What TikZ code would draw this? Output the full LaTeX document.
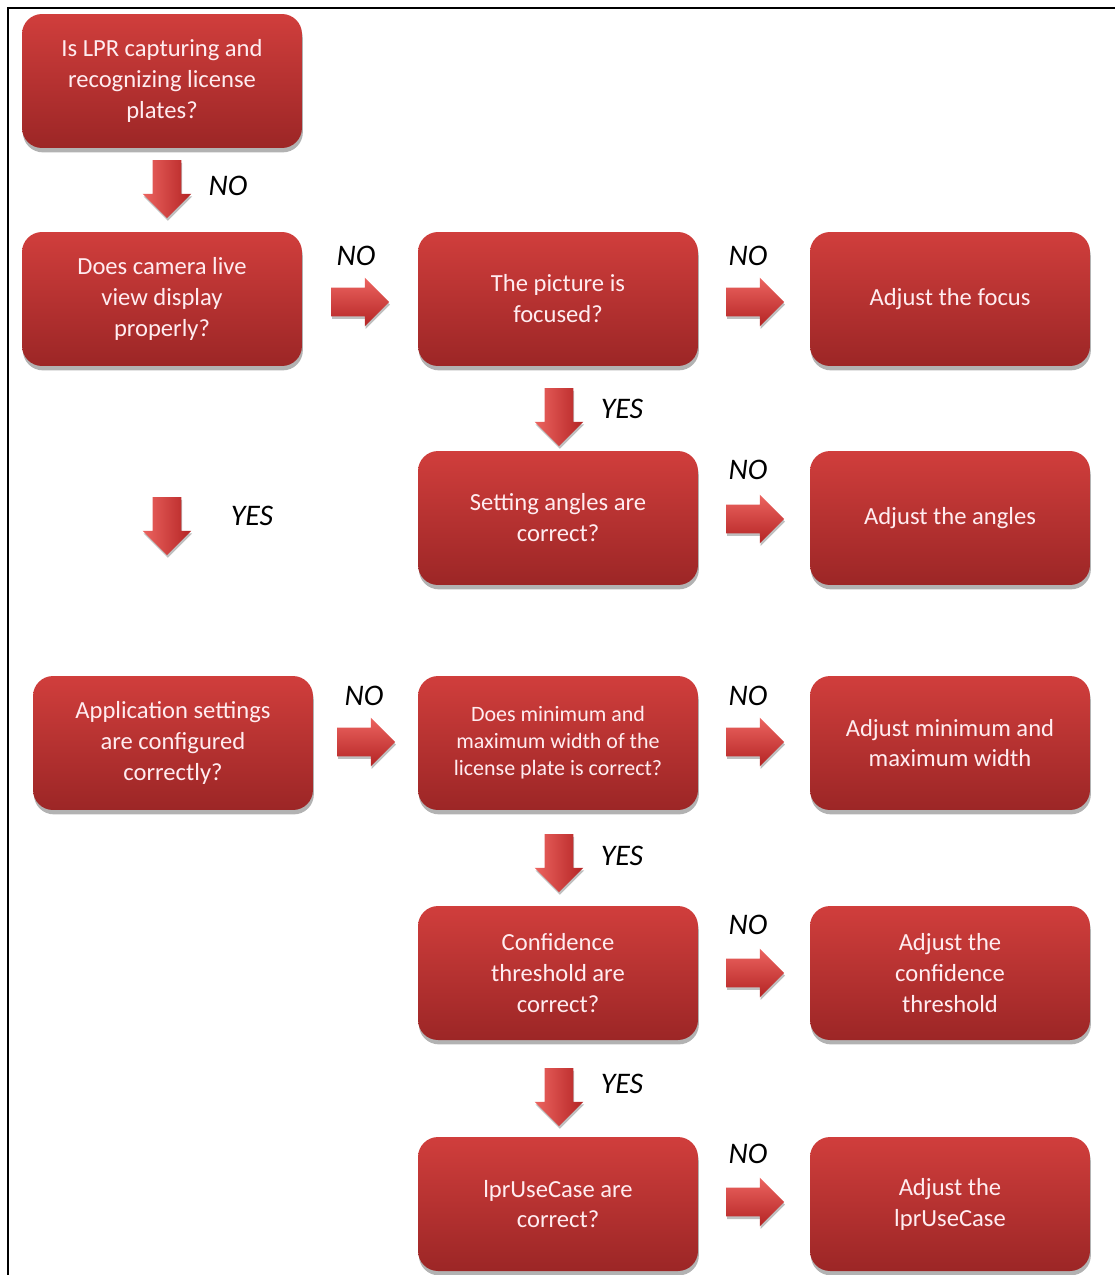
\documentclass[tikz,border=0pt]{standalone}
\usepackage{fontspec}
\setmainfont{Carlito}
\usetikzlibrary{shapes.arrows,shadows}

\definecolor{boxtop}{RGB}{208,62,60}
\definecolor{boxbot}{RGB}{156,38,38}
\definecolor{boxtext}{RGB}{255,236,240}
\definecolor{arrtop}{RGB}{236,100,96}
\definecolor{arrbot}{RGB}{180,36,36}

\tikzset{
  stepbox/.style={rectangle, rounded corners=0.4cm, minimum width=5.6cm,
    minimum height=2.68cm, top color=boxtop, bottom color=boxbot,
    text=boxtext, align=center, font=\fontsize{14}{17.6}\selectfont,
    drop shadow={shadow xshift=0.5pt, shadow yshift=-2.5pt, opacity=0.3, fill=black}},
  rarrow/.style={single arrow, single arrow head extend=0.2cm,
    minimum height=1.16cm, inner xsep=0pt, inner ysep=0.28cm,
    top color=arrtop, bottom color=arrbot,
    drop shadow={shadow xshift=0.5pt, shadow yshift=-1.5pt, opacity=0.25, fill=black}},
  darrow/.style={rarrow, shape border rotate=270, inner xsep=0.28cm, inner ysep=0pt,
    left color=arrtop, right color=arrbot},
  answer/.style={font=\fontsize{17}{20}\selectfont\itshape}
}

\begin{document}
\begin{tikzpicture}[x=0.02cm, y=-0.02cm]
   \useasboundingbox (0,0) rectangle (1115,1275);
   \draw[line width=0.6pt] (8,1275) -- (8,8) -- (1115,8);
   % boxes
   \node[stepbox] (lpr) at (162,81) {Is LPR capturing and\\recognizing license\\plates?};
   \node[stepbox] (live) at (162,299) {Does camera live\\view display\\properly?};
   \node[stepbox] (focus) at (558,299) {The picture is\\focused?};
   \node[stepbox] (adjfocus) at (950,299) {Adjust the focus};
   \node[stepbox] (angles) at (558,518) {Setting angles are\\correct?};
   \node[stepbox] (adjangles) at (950,518) {Adjust the angles};
   \node[stepbox] (app) at (173,743) {Application settings\\are configured\\correctly?};
   \node[stepbox, font=\fontsize{12.5}{15.4}\selectfont] (width) at (558,743) {Does minimum and\\maximum width of the\\license plate is correct?};
   \node[stepbox] (adjwidth) at (950,743) {Adjust minimum and\\maximum width};
   \node[stepbox] (conf) at (558,973) {Confidence\\threshold are\\correct?};
   \node[stepbox] (adjconf) at (950,973) {Adjust the\\confidence\\threshold};
   \node[stepbox] (usecase) at (558,1204) {lprUseCase are\\correct?};
   \node[stepbox] (adjusecase) at (950,1204) {Adjust the\\lprUseCase};
   % arrows
   \node[darrow] (a1) at (167,182) {};
   \node[rarrow] (a2) at (353,302) {};
   \node[rarrow] (a3) at (748,302) {};
   \node[darrow] (a4) at (559,410) {};
   \node[rarrow] (a5) at (748,519) {};
   \node[darrow] (a6) at (167,519) {};
   \node[rarrow] (a7) at (359,742) {};
   \node[rarrow] (a8) at (748,742) {};
   \node[darrow] (a9) at (559,856) {};
   \node[rarrow] (a10) at (748,973) {};
   \node[darrow] (a11) at (559,1090) {};
   \node[rarrow] (a12) at (748,1202) {};
   % answers
   \node[answer] (n1) at (228,186) {NO};
   \node[answer] (n2) at (356,256) {NO};
   \node[answer] (n3) at (748,256) {NO};
   \node[answer] (y4) at (622,409) {YES};
   \node[answer] (n5) at (748,470) {NO};
   \node[answer] (y6) at (252,516) {YES};
   \node[answer] (n7) at (364,696) {NO};
   \node[answer] (n8) at (748,696) {NO};
   \node[answer] (y9) at (622,856) {YES};
   \node[answer] (n10) at (748,925) {NO};
   \node[answer] (y11) at (622,1084) {YES};
   \node[answer] (n12) at (748,1154) {NO};
\end{tikzpicture}
\end{document}
